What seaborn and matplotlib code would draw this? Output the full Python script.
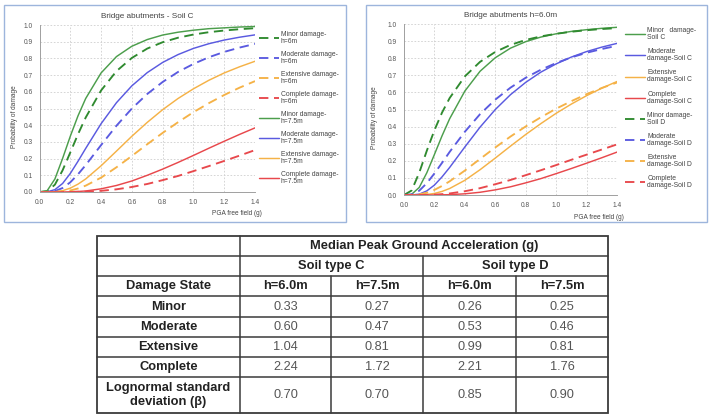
import matplotlib
matplotlib.use("Agg")
import matplotlib.pyplot as plt
import seaborn as sns
import pandas as pd

# PGA free field (g) sample points
pga = [0.0, 0.05, 0.1, 0.15, 0.2, 0.25, 0.3, 0.4, 0.5, 0.6, 0.7, 0.8, 0.9, 1.0, 1.1, 1.2, 1.3, 1.4]

# probability of damage, soil C, h=6m
minor_c6 = [0, 0.004, 0.044, 0.130, 0.237, 0.346, 0.446, 0.608, 0.724, 0.803, 0.859, 0.897, 0.924, 0.943, 0.957, 0.967, 0.975, 0.981]
moderate_c6 = [0, 0.000, 0.005, 0.024, 0.058, 0.106, 0.161, 0.281, 0.397, 0.500, 0.587, 0.659, 0.719, 0.767, 0.807, 0.839, 0.865, 0.887]
extensive_c6 = [0, 0, 0.000, 0.003, 0.009, 0.021, 0.038, 0.086, 0.148, 0.216, 0.286, 0.354, 0.418, 0.478, 0.532, 0.581, 0.625, 0.664]
complete_c6 = [0, 0, 0, 0.000, 0.000, 0.001, 0.002, 0.007, 0.016, 0.030, 0.048, 0.071, 0.096, 0.125, 0.155, 0.186, 0.218, 0.251]
# soil C, h=7.5m
minor_c75 = [0, 0.008, 0.078, 0.201, 0.334, 0.456, 0.560, 0.713, 0.811, 0.873, 0.913, 0.940, 0.957, 0.969, 0.978, 0.983, 0.988, 0.991]
moderate_c75 = [0, 0.001, 0.014, 0.051, 0.111, 0.184, 0.261, 0.409, 0.535, 0.636, 0.715, 0.776, 0.823, 0.860, 0.888, 0.910, 0.927, 0.941]
extensive_c75 = [0, 0, 0.001, 0.008, 0.023, 0.047, 0.078, 0.157, 0.245, 0.334, 0.417, 0.493, 0.560, 0.618, 0.669, 0.713, 0.750, 0.783]
complete_c75 = [0, 0, 0, 0.000, 0.001, 0.003, 0.006, 0.019, 0.039, 0.066, 0.100, 0.137, 0.177, 0.219, 0.262, 0.304, 0.345, 0.384]
# soil D, h=6m
minor_d6 = [0, 0.026, 0.130, 0.259, 0.379, 0.482, 0.567, 0.694, 0.779, 0.837, 0.878, 0.907, 0.928, 0.943, 0.955, 0.964, 0.971, 0.976]
moderate_d6 = [0, 0.003, 0.025, 0.069, 0.126, 0.188, 0.252, 0.370, 0.473, 0.558, 0.628, 0.686, 0.733, 0.772, 0.805, 0.832, 0.854, 0.873]
extensive_d6 = [0, 0.000, 0.004, 0.013, 0.030, 0.053, 0.080, 0.143, 0.211, 0.278, 0.342, 0.401, 0.455, 0.505, 0.549, 0.590, 0.626, 0.658]
complete_d6 = [0, 0, 0.000, 0.001, 0.002, 0.005, 0.009, 0.022, 0.040, 0.063, 0.088, 0.116, 0.145, 0.175, 0.206, 0.236, 0.266, 0.296]

# table
damage_states = ["Minor", "Moderate", "Extensive", "Complete"]
soil_types = ["Soil type C", "Soil type D"]
heights = ["h=6.0m", "h=7.5m", "h=6.0m", "h=7.5m"]
median_c60 = ["0.33", "0.60", "1.04", "2.24"]
median_c75 = ["0.27", "0.47", "0.81", "1.72"]
median_d60 = ["0.26", "0.53", "0.99", "2.21"]
median_d75 = ["0.25", "0.46", "0.81", "1.76"]
beta_row = ["0.70", "0.70", "0.85", "0.90"]

sns.set_style("white")
plt.rcParams['font.family'] = ['Liberation Sans', 'DejaVu Sans']

colors = {"Minor": "#4c9e4c", "Moderate": "#5a5ae0", "Extensive": "#f5b247", "Complete": "#e8484c"}
dash_green = "#2f8a2f"
dash = (0, (5, 3))

fig = plt.figure(figsize=(7.12, 4.19), dpi=100)

# overlay in pixel coords for frames and table
ov = fig.add_axes([0, 0, 1, 1])
ov.set_xlim(0, 712)
ov.set_ylim(419, 0)
ov.axis("off")
for x0, x1 in [(4, 346), (366, 707)]:
    ov.add_patch(plt.Rectangle((x0, 5), x1 - x0, 217, fill=False, ec="#9db5dc", lw=1.0))


def style_ax(ax, title):
    ax.set_xlim(0, 1.4)
    ax.set_ylim(0, 1.0)
    ax.set_xticks([0, 0.2, 0.4, 0.6, 0.8, 1.0, 1.2, 1.4])
    ax.set_yticks([i / 10 for i in range(11)])
    ax.xaxis.set_major_formatter(matplotlib.ticker.FormatStrFormatter("%.1f"))
    ax.yaxis.set_major_formatter(matplotlib.ticker.FormatStrFormatter("%.1f"))
    ax.tick_params(labelsize=4.8, colors="#555555", length=2, width=0.5, pad=3)
    ax.grid(True, color="#cfcfcf", linestyle=(0, (2, 2)), lw=0.6)
    for s in ["top", "right"]:
        ax.spines[s].set_visible(False)
    for s in ["left", "bottom"]:
        ax.spines[s].set_color("#a0a0a0")
        ax.spines[s].set_linewidth(0.7)
    ax.set_title(title, fontsize=5.9, color="#444444", pad=5)
    ax.set_ylabel("Probability of damage", fontsize=4.7, color="#444444")
    ax.yaxis.set_label_coords(-0.1, 0.45)
    ax.set_xlabel("PGA free field (g)", fontsize=4.7, color="#444444", ha="right")
    ax.xaxis.set_label_coords(1.03, -0.11)


def curve(ax, y, color, ls, lw, label):
    df = pd.DataFrame({"pga": pga, "p": y})
    sns.lineplot(data=df, x="pga", y="p", color=color, linestyle=ls, lw=lw, ax=ax, label=label)


# left chart
ax1 = fig.add_axes([0.0555, 0.5418, 0.3027, 0.3985])
left_dashed = [minor_c6, moderate_c6, extensive_c6, complete_c6]
left_solid = [minor_c75, moderate_c75, extensive_c75, complete_c75]
for st, y in zip(damage_states, left_dashed):
    c = dash_green if st == "Minor" else colors[st]
    curve(ax1, y, c, dash, 1.35, f"{st} damage-\nh=6m")
for st, y in zip(damage_states, left_solid):
    curve(ax1, y, colors[st], "-", 1.05, f"{st} damage-\nh=7.5m")
style_ax(ax1, "Bridge abutments - Soil C")
leg1 = ax1.legend(loc="upper left", bbox_to_anchor=(1.0, 0.99), frameon=False, fontsize=4.9,
                  handlelength=2.9, handletextpad=0.3, labelspacing=0.88, borderaxespad=0.2)
for t in leg1.get_texts():
    t.set_linespacing(1.0)
    t.set_color("#444444")

# right chart
ax2 = fig.add_axes([0.5674, 0.5346, 0.2992, 0.408])
right_solid = [minor_c6, moderate_c6, extensive_c6, complete_c6]
right_dashed = [minor_d6, moderate_d6, extensive_d6, complete_d6]
labels_c = ["Minor   damage-\nSoil C", "Moderate\ndamage-Soil C", "Extensive\ndamage-Soil C", "Complete\ndamage-Soil C"]
labels_d = ["Minor damage-\nSoil D", "Moderate\ndamage-Soil D", "Extensive\ndamage-Soil D", "Complete\ndamage-Soil D"]
for st, y, lab in zip(damage_states, right_solid, labels_c):
    curve(ax2, y, colors[st], "-", 1.05, lab)
for st, y, lab in zip(damage_states, right_dashed, labels_d):
    c = dash_green if st == "Minor" else colors[st]
    curve(ax2, y, c, dash, 1.35, lab)
style_ax(ax2, "Bridge abutments h=6.0m")
ax2.yaxis.set_label_coords(-0.12, 0.45)
leg2 = ax2.legend(loc="upper left", bbox_to_anchor=(1.02, 1.005), frameon=False, fontsize=4.9,
                  handlelength=2.9, handletextpad=0.3, labelspacing=1.04, borderaxespad=0.2)
for t in leg2.get_texts():
    t.set_linespacing(1.0)
    t.set_color("#444444")

# table
cols = [97, 240, 331, 423, 516, 608]
rows = [236, 256, 276, 296, 317, 337, 357, 377, 413]
lc = "#3a3a3a"
lw = 1.1
ov.add_patch(plt.Rectangle((cols[0], rows[0]), cols[-1] - cols[0], rows[-1] - rows[0], fill=False, ec=lc, lw=1.3))
for r in rows[1:-1]:
    ov.plot([cols[0], cols[-1]], [r, r], color=lc, lw=lw)
ov.plot([cols[1], cols[1]], [rows[0], rows[-1]], color=lc, lw=lw)
ov.plot([cols[3], cols[3]], [rows[1], rows[-1]], color=lc, lw=lw)
for c in [cols[2], cols[4]]:
    ov.plot([c, c], [rows[2], rows[-1]], color=lc, lw=lw)


def mid(a, b):
    return (a + b) / 2


hdr = dict(fontsize=9.3, fontweight="bold", color="#222222", ha="center", va="center")
val = dict(fontsize=9.2, color="#555555", ha="center", va="center")
ov.text(mid(cols[1], cols[5]), mid(rows[0], rows[1]), "Median Peak Ground Acceleration (g)", **hdr)
ov.text(mid(cols[1], cols[3]), mid(rows[1], rows[2]), soil_types[0], **hdr)
ov.text(mid(cols[3], cols[5]), mid(rows[1], rows[2]), soil_types[1], **hdr)
ov.text(mid(cols[0], cols[1]), mid(rows[2], rows[3]), "Damage State", **hdr)
for j, h in enumerate(heights):
    ov.text(mid(cols[j + 1], cols[j + 2]), mid(rows[2], rows[3]), h, **hdr)
table_cols = [median_c60, median_c75, median_d60, median_d75]
for i, st in enumerate(damage_states):
    yc = mid(rows[3 + i], rows[4 + i])
    ov.text(mid(cols[0], cols[1]), yc, st, **hdr)
    for j, col in enumerate(table_cols):
        ov.text(mid(cols[j + 1], cols[j + 2]), yc, col[i], **val)
yc = mid(rows[7], rows[8])
ov.text(mid(cols[0], cols[1]), yc, "Lognormal standard\ndeviation (\u03b2)", linespacing=1.15, **hdr)
for j, b in enumerate(beta_row):
    ov.text(mid(cols[j + 1], cols[j + 2]), yc, b, **val)

fig.savefig("out.png", dpi=100)
